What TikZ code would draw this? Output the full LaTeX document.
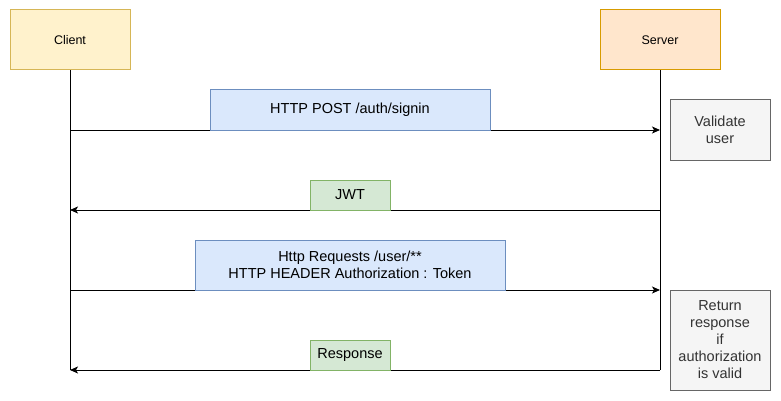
\documentclass[tikz,border=0pt]{standalone}
\usepackage{fontspec}
\setmainfont{Liberation Sans}
\usetikzlibrary{arrows.meta}
\definecolor{clientfill}{HTML}{FFF2CC}
\definecolor{clientline}{HTML}{D6B656}
\definecolor{serverfill}{HTML}{FFE6CC}
\definecolor{serverline}{HTML}{D79B00}
\definecolor{reqfill}{HTML}{DAE8FC}
\definecolor{reqline}{HTML}{6C8EBF}
\definecolor{respfill}{HTML}{D5E8D4}
\definecolor{respline}{HTML}{82B366}
\definecolor{notefill}{HTML}{F5F5F5}
\definecolor{noteline}{HTML}{666666}
\definecolor{notetext}{HTML}{333333}
\tikzset{
  actor/.style={draw, line width=1pt, minimum width=120pt, minimum height=60pt, inner sep=0pt, font=\fontsize{12.5}{15}\selectfont},
  reqbox/.style={draw=reqline, fill=reqfill, line width=1pt, inner sep=0pt, minimum height=40pt, align=center, font=\fontsize{14.5}{17}\selectfont},
  respbox/.style={draw=respline, fill=respfill, line width=1pt, inner sep=0pt, minimum width=80pt, minimum height=30pt, font=\fontsize{14.5}{17}\selectfont},
  notebox/.style={draw=noteline, fill=notefill, text=notetext, line width=1pt, inner sep=0pt, minimum width=100pt, align=center, font=\fontsize{14.5}{17}\selectfont},
  msg/.style={line width=1pt, -{Stealth[length=8pt,width=7pt,inset=2pt]}}
}
\begin{document}
\begin{tikzpicture}[x=1pt,y=-1pt]
\useasboundingbox (0,0) rectangle (781,401);
% actors and lifelines
\node[actor, fill=clientfill, draw=clientline] (client) at (70,40) {Client};
\node[actor, fill=serverfill, draw=serverline] (server) at (660,40) {Server};
\coordinate (clientend) at (70,370);
\coordinate (serverend) at (660,370);
\draw[line width=1pt] (client.south) -- (clientend);
\draw[line width=1pt] (server.south) -- (serverend);
% messages
\coordinate (c1) at (70,130); \coordinate (s1) at (660,130);
\coordinate (c2) at (70,210); \coordinate (s2) at (660,210);
\coordinate (c3) at (70,290); \coordinate (s3) at (660,290);
\draw[msg] (c1) -- (s1);
\draw[msg] (s2) -- (c2);
\draw[msg] (c3) -- (s3);
\draw[msg] (serverend) -- (clientend);
% labels
\node[reqbox, minimum width=280pt] (signin) at (350,110) {HTTP POST /auth/signin};
\node[respbox] (jwt) at (350,195) {JWT};
\node[reqbox, minimum width=310pt, minimum height=50pt] (request) at (350,265) {Http Requests /user/**\\HTTP HEADER Authorization : Token};
\node[respbox] (response) at (350,355) {Response};
% server notes
\node[notebox, minimum height=60pt] (validate) at (720,130) {Validate\\user};
\node[notebox, minimum height=100pt] (authcheck) at (720,340) {Return\\response\\if\\authorization\\is valid};
\end{tikzpicture}
\end{document}
